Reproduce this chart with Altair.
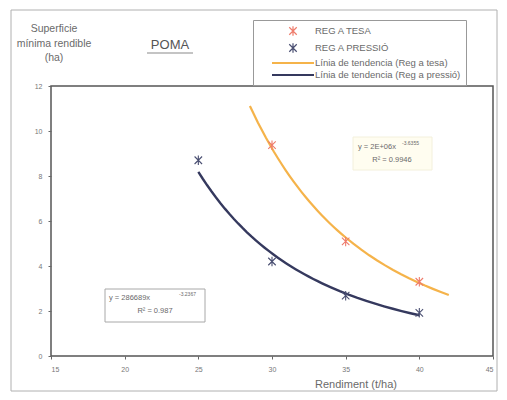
import altair as alt
import pandas as pd

# ---- data ----
tesa_x = [30, 35, 40]
tesa_y = [9.37, 5.09, 3.30]
pressio_x = [25, 30, 35, 40]
pressio_y = [8.70, 4.20, 2.68, 1.92]

series = ["REG A TESA", "REG A PRESSIÓ",
          "Línia de tendencia (Reg a tesa)", "Línia de tendencia (Reg a pressió)"]
colors = ["#EE7B6B", "#4A4F72", "#F5B34A", "#35395E"]
marker = "M-0.75,-0.75L0.75,0.75M-0.75,0.75L0.75,-0.75M0,-0.95L0,0.95"
linesym = "M-4.2,-0.1L4.2,-0.1M-4.2,0.1L4.2,0.1"
shapes = [marker, marker, linesym, linesym]

x_ticks = [15, 20, 25, 30, 35, 40, 45]
y_ticks = [0, 2, 4, 6, 8, 10, 12]
tesa_extent = [28.5, 42]
pressio_extent = [25, 40]

eq_tesa = ["y = 2E+06x", "-3.6355", "R² = 0.9946"]
eq_pressio = ["y = 286689x", "-3.2367", "R² = 0.987"]

df = pd.DataFrame({
    "x": tesa_x + pressio_x,
    "y": tesa_y + pressio_y,
    "serie": [series[0]] * len(tesa_x) + [series[1]] * len(pressio_x),
})

FONT = "Liberation Sans"
GREY = "#6a6a6a"

xs = alt.Scale(domain=[15, 45], nice=False)
ys = alt.Scale(domain=[0, 12], nice=False)
cs = alt.Scale(domain=series, range=colors)
ss = alt.Scale(domain=series, range=shapes)

xenc = alt.X("x:Q", scale=xs, axis=alt.Axis(values=x_ticks, title=None))
yenc = alt.Y("y:Q", scale=ys, axis=alt.Axis(values=y_ticks, title=None))

legend = alt.Legend(
    title=None, orient="none", legendX=202, legendY=-66,
    strokeColor="#999", padding=5, symbolOffset=29, labelOffset=16,
    symbolSize=100, symbolStrokeWidth=1.2, symbolFillColor="transparent",
    labelFontSize=9.5, labelColor=GREY, labelFont=FONT, rowPadding=1,
    fillColor="white",
)

points = alt.Chart(df).mark_point(filled=False, size=100, strokeWidth=1.1, opacity=1).encode(
    x=xenc, y=yenc,
    color=alt.Color("serie:N", scale=cs, legend=legend),
    shape=alt.Shape("serie:N", scale=ss, legend=legend),
)

trend_tesa = alt.Chart(df).transform_filter(
    alt.datum.serie == series[0]
).transform_regression(
    "x", "y", method="pow", extent=tesa_extent
).transform_calculate(serie=f"'{series[2]}'").mark_line(strokeWidth=2.2).encode(
    x=xenc, y=yenc, color=alt.Color("serie:N", scale=cs, legend=legend)
)

trend_pressio = alt.Chart(df).transform_filter(
    alt.datum.serie == series[1]
).transform_regression(
    "x", "y", method="pow", extent=pressio_extent
).transform_calculate(serie=f"'{series[3]}'").mark_line(strokeWidth=2.4).encode(
    x=xenc, y=yenc, color=alt.Color("serie:N", scale=cs, legend=legend)
)

one = pd.DataFrame({"t": [""]})

def txt(t, x, y, size=8, align="center", color=GREY, **kw):
    return alt.Chart(pd.DataFrame({"t": [t]})).mark_text(
        font=FONT, fontSize=size, align=align, baseline="middle", color=color, **kw
    ).encode(text="t:N", x=alt.value(x), y=alt.value(y))

def box(x, x2, y, y2, fill, stroke):
    return alt.Chart(one).mark_rect(fill=fill, stroke=stroke, strokeWidth=1).encode(
        x=alt.value(x), x2=alt.value(x2), y=alt.value(y), y2=alt.value(y2))

outer = alt.Chart(one).mark_rect(fill=None, stroke="#b0b0b0", strokeWidth=1).encode(
    x=alt.value(-40), x2=alt.value(446), y=alt.value(-76), y2=alt.value(305))

underline = alt.Chart(one).mark_rule(color="#8a8a8a", strokeWidth=1.2).encode(
    x=alt.value(96), x2=alt.value(142), y=alt.value(-33))

layers = [
    outer,
    box(302, 381, 51, 84, "#FFFDF0", "#f3f0dc"),
    box(54, 154, 203, 236, "white", "#a8a8a8"),
    trend_tesa, trend_pressio, points,
    txt(eq_tesa[0], 307, 61, 7.5, align="left"),
    txt(eq_tesa[1], 351, 57, 5, align="left"),
    txt(eq_tesa[2], 341, 74, 7.5),
    txt(eq_pressio[0], 58, 212, 7.5, align="left"),
    txt(eq_pressio[1], 128, 208, 5, align="left"),
    txt(eq_pressio[2], 104, 225, 7.5),
    txt("Superficie\nmínima rendible\n(ha)", 3, -57, 10.5, lineBreak="\n", lineHeight=14.5),
    txt("POMA", 119, -41, 13, color="#555"),
    underline,
    txt("Rendiment (t/ha)", 305, 299, 11),
]

chart = alt.layer(*layers).properties(
    width=442, height=270,
    autosize=alt.AutoSizeParams(type="none"),
    padding={"left": 43, "top": 78, "right": 6, "bottom": 36},
).configure_view(
    stroke="#555", strokeWidth=1.5
).configure_axis(
    domain=False, grid=False, labelFont=FONT, labelFontSize=7, labelColor="#777",
    tickColor="#666", tickSize=3, labelPadding=6,
)

chart.save("out.html", embed_options={"renderer": "svg", "actions": False})
